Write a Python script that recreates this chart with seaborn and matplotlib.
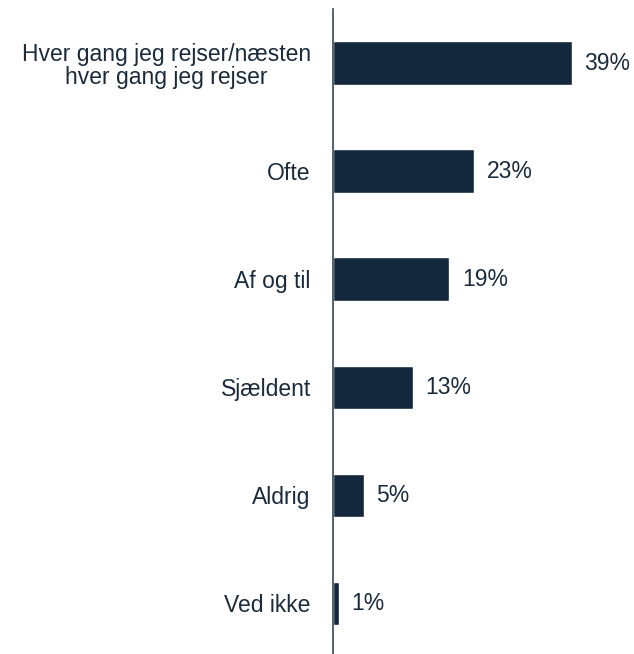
import matplotlib
matplotlib.use("Agg")
import matplotlib.pyplot as plt
import seaborn as sns
import pandas as pd

categories = ["Hver gang jeg rejser/næsten\nhver gang jeg rejser", "Ofte", "Af og til",
              "Sjældent", "Aldrig", "Ved ikke"]
values = [39, 23, 19, 13, 5, 1]
value_labels = ["39%", "23%", "19%", "13%", "5%", "1%"]

df = pd.DataFrame({"cat": categories, "val": values})

sns.set_theme(style="white")
plt.rcParams['font.family'] = ['Liberation Sans', 'DejaVu Sans']

bar_color = "#13283c"
text_color = "#1b2b3b"

fig = plt.figure(figsize=(6.34, 6.54), dpi=100)
ax = fig.add_axes([333/634, 0.0, 1 - 333/634 - 0.005, 1 - 9/654])
sns.barplot(data=df, x="val", y="cat", orient="h", color=bar_color, width=0.4,
            saturation=1, ax=ax)

ax.set_xlim(0, (631 - 333) / 6.13)
ax.set_ylim(5.47, -0.5)
ax.set_xlabel("")
ax.set_ylabel("")
ax.set_xticks([])
for s in ["top", "right", "bottom"]:
    ax.spines[s].set_visible(False)
ax.spines["left"].set_color("#3a4652")
ax.spines["left"].set_linewidth(1.2)
ax.tick_params(axis="y", length=0, pad=16, labelsize=16.5, labelcolor=text_color)
for lbl in ax.get_yticklabels():
    lbl.set_multialignment("center")
    lbl.set_linespacing(1.05)

for p, lab in zip(ax.patches, value_labels):
    ax.annotate(lab, (p.get_width(), p.get_y() + p.get_height() / 2),
                xytext=(9, 0), textcoords="offset points", va="center", ha="left",
                fontsize=16.5, color=text_color)

fig.savefig("out.png", dpi=100)
